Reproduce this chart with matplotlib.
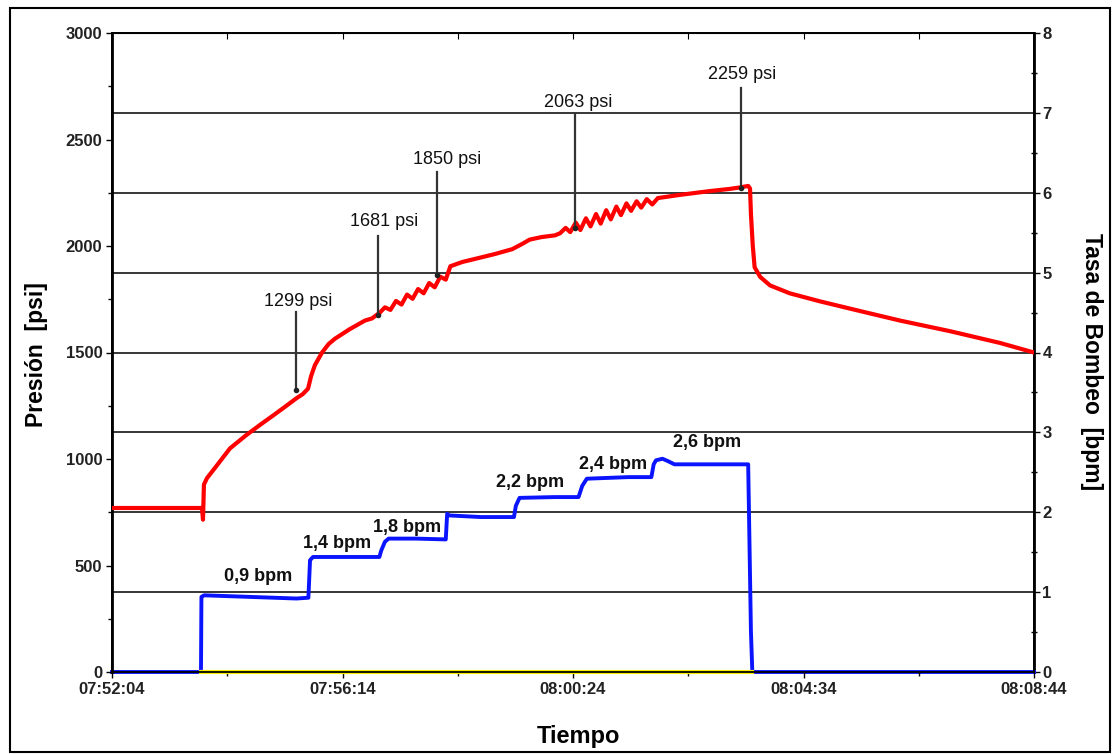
import matplotlib
matplotlib.use("Agg")
import matplotlib.pyplot as plt
from matplotlib.ticker import MultipleLocator, FuncFormatter
from matplotlib.patches import Rectangle

# ---- data (time in seconds from 07:52:04) ----
start_clock = 7 * 3600 + 52 * 60 + 4

press_t = [0, 97.6, 98.7, 99.7, 103, 112, 128, 145, 160.5, 175, 187.6, 200, 207,
           212.6, 216, 220, 227.8, 235, 241.9, 258, 274.4, 282, 288.5,
           290, 296, 302, 308, 314, 320, 326, 332, 338, 344, 350, 356, 362, 367,
           380, 399, 415, 434, 445, 453, 466, 480.5,
           486, 492, 497, 503, 508, 514, 519, 525, 530, 536, 541, 547, 552, 558,
           563, 569, 574, 580, 586, 592,
           616, 648.6, 670, 681, 690, 692, 693, 695, 697, 703, 713.7, 735, 768,
           811, 854.6, 909, 963, 1000]
press_psi = [770, 770, 715, 880, 910, 960, 1050, 1110, 1160, 1205, 1245, 1285, 1305,
             1330, 1390, 1440, 1500, 1540, 1565, 1610, 1650, 1660, 1681,
             1685, 1712, 1700, 1742, 1725, 1772, 1752, 1798, 1778, 1826, 1806, 1856,
             1842, 1905,
             1925, 1945, 1962, 1985, 2010, 2030, 2042, 2050,
             2060, 2085, 2065, 2110, 2075, 2130, 2092, 2150, 2105, 2168, 2125, 2185,
             2145, 2200, 2165, 2210, 2180, 2220, 2195, 2225,
             2240, 2258, 2268, 2275, 2282, 2270, 2150, 2000, 1900, 1855, 1815, 1778,
             1740, 1695, 1650, 1600, 1545, 1500]

rate_t = [0, 96.5, 97, 100, 150, 200, 213, 214.8, 218, 250, 290, 292, 296, 300,
          330, 362, 363.5, 366, 400, 436, 438, 442, 480, 506, 510, 515, 560, 585,
          587.5, 590, 597, 603, 610, 640, 670, 690, 693, 694.5, 1000]
rate_bpm = [0, 0, 0.94, 0.96, 0.94, 0.92, 0.93, 1.40, 1.44, 1.44, 1.44, 1.52,
            1.63, 1.67, 1.67, 1.66, 1.98, 1.96, 1.94, 1.94, 2.08, 2.18, 2.19, 2.19,
            2.33, 2.42, 2.44, 2.44, 2.60, 2.65, 2.67, 2.64, 2.60, 2.60, 2.60, 2.60,
            0.5, 0, 0]

yellow_t = [97, 694]
yellow_psi = [0, 0]

marks_t = [199.6, 288.5, 352.5, 502, 682]
marks_psi = [1324, 1676, 1864, 2085, 2272]
marks_top = [1690, 2047, 2347, 2620, 2742]
marks_text_t = [201.7, 295, 363, 505.4, 683.3]
marks_text_psi = [1700, 2075, 2366, 2633, 2765]
marks_labels = ["1299 psi", "1681 psi", "1850 psi", "2063 psi", "2259 psi"]

rate_labels = ["0,9 bpm", "1,4 bpm", "1,8 bpm", "2,2 bpm", "2,4 bpm", "2,6 bpm"]
rate_label_t = [158.4, 244, 320, 453, 543, 645]
rate_label_bpm = [1.19, 1.61, 1.81, 2.37, 2.60, 2.87]

grid_bpm = [1, 2, 3, 4, 5, 6, 7]

# ---- figure ----
W, H = 1114, 754
fig = plt.figure(figsize=(W / 100, H / 100), dpi=100)
fig.patches.append(Rectangle((10 / W, 2 / H), 1100 / W, 744 / H, transform=fig.transFigure,
                             fill=False, edgecolor="black", lw=1.5))

ax = fig.add_axes([112 / W, 1 - 672 / H, (1034 - 112) / W, (672 - 33) / H])
ax2 = ax.twinx()
ax.set_zorder(ax2.get_zorder() + 1)
ax.patch.set_visible(False)

tickfam = ["Liberation Sans Narrow", "Liberation Sans"]

# gridlines on rate axis
for g in grid_bpm:
    ax2.axhline(g, color="black", lw=1.1, zorder=1)

ax2.plot(rate_t, rate_bpm, color="#0a14ff", lw=2.8, zorder=3, clip_on=False)
ax.plot(yellow_t, yellow_psi, color="#f5f000", lw=3, zorder=2, clip_on=False)
ax.plot(press_t, press_psi, color="#ff0000", lw=3, zorder=3)

for t, p, top, tt, tp, lab in zip(marks_t, marks_psi, marks_top, marks_text_t,
                                  marks_text_psi, marks_labels):
    ax.plot([t, t], [p, top], color="#333333", lw=1.6, zorder=4)
    ax.plot([t], [p], marker="o", ms=3, color="#222222", zorder=5)
    ax.text(tt, tp, lab, ha="center", va="bottom", fontsize=13,
            family=tickfam, color="#111111", zorder=5)

for lab, t, b in zip(rate_labels, rate_label_t, rate_label_bpm):
    ax2.text(t, b, lab, ha="center", va="center", fontsize=13, weight="bold",
             family=["Liberation Sans", "DejaVu Sans"], color="#111111", zorder=5)

ax.set_xlim(0, 1000)
ax.set_ylim(0, 3000)
ax2.set_ylim(0, 8)

ax.xaxis.set_major_locator(MultipleLocator(250))
ax.xaxis.set_minor_locator(MultipleLocator(125))
ax.yaxis.set_major_locator(MultipleLocator(500))
ax.yaxis.set_minor_locator(MultipleLocator(250))
ax2.yaxis.set_major_locator(MultipleLocator(1))
ax2.yaxis.set_minor_locator(MultipleLocator(0.5))


def fmt_time(v, pos):
    s = int(round(start_clock + v))
    return "%02d:%02d:%02d" % (s // 3600, (s % 3600) // 60, s % 60)


ax.xaxis.set_major_formatter(FuncFormatter(fmt_time))

ax.tick_params(axis="both", which="major", direction="out", length=4, width=1, pad=3)
ax.tick_params(axis="both", which="minor", direction="out", length=3, width=1)
ax2.tick_params(axis="y", which="major", direction="out", length=4, width=1, pad=2)
ax2.tick_params(axis="y", which="minor", direction="inout", length=4, width=1)

for lbl in ax.get_xticklabels() + ax.get_yticklabels() + ax2.get_yticklabels():
    lbl.set_fontfamily(tickfam)
    lbl.set_fontweight("bold")
    lbl.set_fontsize(12)
    lbl.set_color("#222222")

secx = ax.secondary_xaxis("top")
secx.xaxis.set_major_locator(MultipleLocator(125))
secx.tick_params(direction="in", length=4, labeltop=False)

for a in (ax, ax2):
    for s in a.spines.values():
        s.set_color("black")
        s.set_linewidth(1.3)
ax.spines["left"].set_linewidth(2)
ax2.spines["right"].set_linewidth(2)

labfont = ["Liberation Sans", "DejaVu Sans"]
fig.text(37 / W, 1 - 355 / H, "Presión  [psi]", rotation=90, ha="center", va="center",
         fontsize=16.5, weight="bold", family=labfont)
fig.text(1092 / W, 1 - 362 / H, "Tasa de Bombeo  [bpm]", rotation=270, ha="center",
         va="center", fontsize=16.5, weight="bold", family=labfont)
fig.text(578 / W, 1 - 737 / H, "Tiempo", ha="center", va="center", fontsize=17,
         weight="bold", family=labfont)

fig.savefig("out.png", dpi=100)
